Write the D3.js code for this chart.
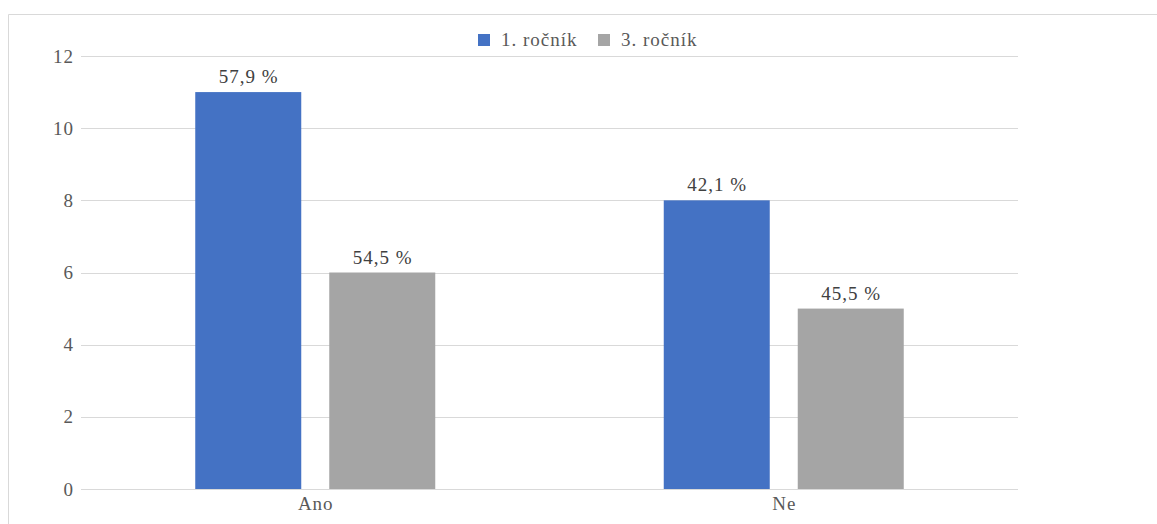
<!DOCTYPE html>
<html><head><meta charset="utf-8">
<script src="https://cdn.jsdelivr.net/npm/d3@7"></script>
<style>body{margin:0;background:#fff}</style>
</head><body>
<svg id="c" width="1157" height="524"></svg>
<script>
const categories = ["Ano", "Ne"];
const seriesNames = ["1. ročník", "3. ročník"];
const values1 = [11, 8];
const values3 = [6, 5];
const labels1 = ["57,9 %", "42,1 %"];
const labels3 = ["54,5 %", "45,5 %"];
const yTicks = [0, 2, 4, 6, 8, 10, 12];
const colors = ["#4472C4", "#A5A5A5"];

(function(){
const svg = d3.select("#c");
const styleText = sel => sel
  .style("font-family", "\"Liberation Serif\"")
  .style("font-size", "19px")
  .style("letter-spacing", "1px");
// chart border
svg.append("path").attr("d", "M8.5,524 V14.5 H1157").attr("fill","none").attr("stroke","#d9d9d9").attr("stroke-width",1);

const mLeft = 81, mRight = 1018, mTop = 56, mBottom = 489;
const x = d3.scaleBand().domain(categories).range([mLeft, mRight]).paddingInner(0).paddingOuter(0);
const y = d3.scaleLinear().domain([0, 12]).range([mBottom, mTop]);
const bw = 106, gap = 28;
const xs = d3.scaleBand().domain([0,1]).range([0, bw*2+gap]).paddingInner(gap/(bw+gap)).paddingOuter(0);

// grid
svg.append("g").selectAll("line").data(yTicks).join("line")
  .attr("x1", mLeft).attr("x2", mRight)
  .attr("y1", d => Math.round(y(d))+0.5).attr("y2", d => Math.round(y(d))+0.5)
  .attr("stroke", "#d9d9d9").attr("stroke-width", 1);

// y labels
svg.append("g").selectAll("text").data(yTicks).join("text")
  .attr("x", 74).attr("y", d => y(d) + 6.5)
  .attr("text-anchor", "end").attr("fill", "#595959")
  .call(styleText)
  .text(d => d);

const series = [
  {vals: values1, labs: labels1, c: colors[0]},
  {vals: values3, labs: labels3, c: colors[1]}
];
series.forEach((s, si) => {
  const g = svg.append("g");
  categories.forEach((cat, ci) => {
    const groupStart = x(cat) + (x.bandwidth() - (bw*2+gap))/2;
    const bx = groupStart + xs(si);
    g.append("rect").attr("x", bx).attr("y", y(s.vals[ci])).attr("width", xs.bandwidth())
      .attr("height", y(0) - y(s.vals[ci])).attr("fill", s.c);
    g.append("text").attr("x", bx + xs.bandwidth()/2 + 0.5).attr("y", y(s.vals[ci]) - 9)
      .attr("text-anchor", "middle").attr("fill", "#404040")
      .call(styleText)
      .text(s.labs[ci]);
  });
});

// x labels
svg.append("g").selectAll("text").data(categories).join("text")
  .attr("x", d => x(d) + x.bandwidth()/2 + 0.5).attr("y", 510)
  .attr("text-anchor", "middle").attr("fill", "#595959")
  .call(styleText)
  .text(d => d);

// legend
const legendItems = [{n: seriesNames[0], c: colors[0], x: 478}, {n: seriesNames[1], c: colors[1], x: 598}];
const lg = svg.append("g");
legendItems.forEach(it => {
  lg.append("rect").attr("x", it.x).attr("y", 34).attr("width", 12).attr("height", 12).attr("fill", it.c);
  lg.append("text").attr("x", it.x + 23).attr("y", 46)
    .attr("fill", "#595959").call(styleText).text(it.n);
});
})();
</script>
</body></html>
